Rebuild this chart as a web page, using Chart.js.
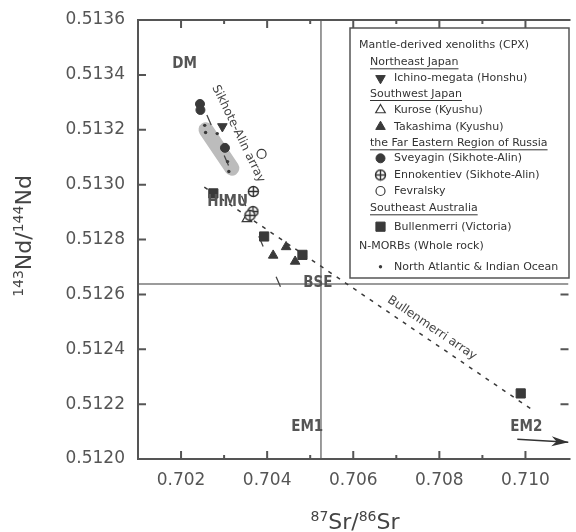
<!DOCTYPE html>
<html>
<head>
<meta charset="utf-8">
<script src="https://cdn.jsdelivr.net/npm/chart.js@4.4.1/dist/chart.umd.min.js"></script>
<style>
    html, body { margin: 0; padding: 0; background: #fff; }
</style>
</head>
<body>
<canvas id="myChart" width="576" height="532"></canvas>
<script>
// values: 87Sr/86Sr (x) and 143Nd/144Nd (y)
var ichinoSr = [0.70296];
var ichinoNd = [0.513212];
var kuroseSr = [0.70353];
var kuroseNd = [0.512875];
var takashimaSr = [0.70444, 0.70414, 0.70465];
var takashimaNd = [0.512773, 0.512742, 0.512720];
var sveyaginSr = [0.70244, 0.70245, 0.70302];
var sveyaginNd = [0.513294, 0.513272, 0.513134];
var ennokentievSr = [0.70368, 0.70367, 0.70360];
var ennokentievNd = [0.512975, 0.512902, 0.512888];
var fevralskySr = [0.70387];
var fevralskyNd = [0.513112];
var bullenmerriSr = [0.70275, 0.70393, 0.70482, 0.70989];
var bullenmerriNd = [0.512968, 0.512811, 0.512744, 0.512239];
var morbSr = [0.70255, 0.70257, 0.70284, 0.70308, 0.70311];
var morbNd = [0.513216, 0.513190, 0.513186, 0.513084, 0.513048];

// grey field, the two arrays, BSE cross lines, arrow towards EM2
var fieldSr = [0.70258, 0.70318];
var fieldNd = [0.513200, 0.513060];
var sikhoteSr = [0.70260, 0.70431];
var sikhoteNd = [0.513254, 0.512627];
var bullArraySr = [0.70254, 0.71020];
var bullArrayNd = [0.512991, 0.512175];
var bseSr = 0.70525;
var bseNd = 0.512638;
var em2ArrowSr = [0.70981, 0.71100];
var em2ArrowNd = [0.512072, 0.512061];

var endMembers = ['DM', 'HIMU', 'BSE', 'EM1', 'EM2'];
var endMemberSr = [0.70208, 0.70308, 0.70518, 0.70493, 0.71002];
var endMemberNd = [0.513440, 0.512937, 0.512641, 0.512117, 0.512117];
var arrayNames = ['Sikhote-Alin array', 'Bullenmerri array'];
var arrayNameSr = [0.70333, 0.70783];
var arrayNameNd = [0.513185, 0.512477];

var srMin = 0.701, srMax = 0.711, srStep = 0.001;
var ndMin = 0.5120, ndMax = 0.5136, ndStep = 0.0002;

var ink = '#3a3a3a';
var frameColor = '#555';

function pts(xs, ys) {
    return xs.map(function (x, i) { return { x: x, y: ys[i] }; });
}

// circle with a cross, for Ennokentiev
var oplus = document.createElement('canvas');
oplus.width = 13;
oplus.height = 13;
(function () {
    var c = oplus.getContext('2d');
    c.fillStyle = '#fff';
    c.strokeStyle = '#2e2e2e';
    c.lineWidth = 1.4;
    c.beginPath(); c.arc(6.5, 6.5, 5, 0, Math.PI * 2); c.fill(); c.stroke();
    c.beginPath();
    c.moveTo(1.5, 6.5); c.lineTo(11.5, 6.5);
    c.moveTo(6.5, 1.5); c.lineTo(6.5, 11.5);
    c.stroke();
})();

function marks(label, xs, ys, style, extra) {
    var ds = {
        label: label,
        data: pts(xs, ys),
        pointStyle: style,
        pointRadius: 5,
        pointBackgroundColor: ink,
        pointBorderColor: ink,
        pointBorderWidth: 1,
        showLine: false,
        order: 1
    };
    return Object.assign(ds, extra || {});
}

function guide(xs, ys, extra) {
    var ds = {
        label: '',
        data: pts(xs, ys),
        showLine: true,
        pointRadius: 0,
        borderColor: '#444',
        borderWidth: 1.3,
        fill: false,
        order: 5
    };
    return Object.assign(ds, extra || {});
}

var datasets = [
    marks('Ichino-megata (Honshu)', ichinoSr, ichinoNd, 'triangle', { pointRadius: 5.5, pointRotation: 180 }),
    marks('Kurose (Kyushu)', kuroseSr, kuroseNd, 'triangle', { pointRadius: 5.5, pointBackgroundColor: '#fff', pointBorderWidth: 1.2 }),
    marks('Takashima (Kyushu)', takashimaSr, takashimaNd, 'triangle', { pointRadius: 5.5 }),
    marks('Sveyagin (Sikhote-Alin)', sveyaginSr, sveyaginNd, 'circle', { pointRadius: 4.5 }),
    marks('Ennokentiev (Sikhote-Alin)', ennokentievSr, ennokentievNd, oplus, { order: 0 }),
    marks('Fevralsky', fevralskySr, fevralskyNd, 'circle', { pointRadius: 4.5, pointBackgroundColor: '#fff', pointBorderWidth: 1.2 }),
    marks('Bullenmerri (Victoria)', bullenmerriSr, bullenmerriNd, 'rect', { pointRadius: 6.5 }),
    marks('North Atlantic & Indian Ocean', morbSr, morbNd, 'circle', { pointRadius: 1.7, pointBorderWidth: 0 }),
    guide(fieldSr, fieldNd, { borderColor: '#bcbcbc', borderWidth: 15, borderCapStyle: 'round', order: 9 }),
    guide(sikhoteSr, sikhoteNd, { borderDash: [11, 33], order: 4 }),
    guide(bullArraySr, bullArrayNd, { borderDash: [4, 6], borderWidth: 1.5, borderColor: '#3a3a3a', order: 4 }),
    guide([srMin, srMax], [bseNd, bseNd], { borderColor: '#7a7a7a', borderWidth: 1.5, order: 8 }),
    guide([bseSr, bseSr], [ndMin, ndMax], { borderColor: '#7a7a7a', borderWidth: 1.5, order: 8 }),
    guide(em2ArrowSr, em2ArrowNd, { borderColor: '#333', borderWidth: 1.5, order: 4 })
];
var ARROW = datasets.length - 1;

var legendRows = [
    ['Mantle-derived xenoliths (CPX)', 'head'],
    ['Northeast Japan', 'sub'],
    [0, 'item'],
    ['Southwest Japan', 'sub'],
    [1, 'item'],
    [2, 'item'],
    ['the Far Eastern Region of Russia', 'sub'],
    [3, 'item'],
    [4, 'item'],
    [5, 'item'],
    ['Southeast Australia', 'sub'],
    [6, 'item'],
    ['N-MORBs (Whole rock)', 'head'],
    [7, 'item']
];
var legendOffsets = [17, 34.3, 50.3, 66, 82, 98.7, 115.3, 130.3, 147, 163, 180.3, 198.7, 217.7, 238.7];

var framePlugin = {
    id: 'frame',
    afterDatasetsDraw: function (chart) {
        var ctx = chart.ctx, a = chart.chartArea, xs = chart.scales.x, ys = chart.scales.y;
        ctx.save();
        ctx.strokeStyle = frameColor;
        ctx.lineWidth = 2;
        ctx.beginPath();
        ctx.moveTo(a.right + 2, a.top);
        ctx.lineTo(a.left, a.top);
        ctx.lineTo(a.left, a.bottom);
        ctx.lineTo(a.right + 2, a.bottom);
        ctx.stroke();

        ctx.beginPath();
        xs.ticks.forEach(function (t) {
            if (Math.abs(t.value - xs.min) < 1e-7 || Math.abs(t.value - xs.max) < 1e-7) return;
            var px = xs.getPixelForValue(t.value);
            var len = Math.round(t.value * 1000) % 2 === 0 ? 8 : 4;
            ctx.moveTo(px, a.bottom); ctx.lineTo(px, a.bottom - len);
            ctx.moveTo(px, a.top); ctx.lineTo(px, a.top + len);
        });
        ys.ticks.forEach(function (t) {
            if (Math.abs(t.value - ys.min) < 1e-9 || Math.abs(t.value - ys.max) < 1e-9) return;
            var py = ys.getPixelForValue(t.value);
            ctx.moveTo(a.left, py); ctx.lineTo(a.left + 8, py);
            ctx.moveTo(a.right, py); ctx.lineTo(a.right - 8, py);
        });
        ctx.stroke();
        ctx.restore();
    }
};

var notesPlugin = {
    id: 'notes',
    afterDatasetsDraw: function (chart) {
        var ctx = chart.ctx, xs = chart.scales.x, ys = chart.scales.y;
        ctx.save();

        // end-member labels
        ctx.fillStyle = '#555';
        ctx.font = 'bold 15px "DejaVu Sans Condensed", "DejaVu Sans", sans-serif';
        ctx.textAlign = 'center';
        ctx.textBaseline = 'middle';
        endMembers.forEach(function (name, i) {
            ctx.fillText(name, xs.getPixelForValue(endMemberSr[i]), ys.getPixelForValue(endMemberNd[i]));
        });

        // array names along their lines
        ctx.fillStyle = '#444';
        ctx.font = '12px "DejaVu Sans", sans-serif';
        var angles = [64, 34];
        arrayNames.forEach(function (name, i) {
            ctx.save();
            ctx.translate(xs.getPixelForValue(arrayNameSr[i]), ys.getPixelForValue(arrayNameNd[i]));
            ctx.rotate(angles[i] * Math.PI / 180);
            ctx.fillText(name, 0, 0);
            ctx.restore();
        });

        // arrow head towards EM2
        var pts2 = chart.getDatasetMeta(ARROW).data;
        var p0 = pts2[0], p1 = pts2[1];
        var ang = Math.atan2(p1.y - p0.y, p1.x - p0.x);
        ctx.translate(p1.x, p1.y);
        ctx.rotate(ang);
        ctx.fillStyle = '#333';
        ctx.beginPath();
        ctx.moveTo(0, 0);
        ctx.lineTo(-17, -5);
        ctx.lineTo(-12, 0);
        ctx.lineTo(-17, 5);
        ctx.closePath();
        ctx.fill();
        ctx.restore();
    }
};

function supTitle(ctx, parts, cx, baseY) {
    var mainFont = '22px "DejaVu Sans", sans-serif';
    var supFont = '14px "DejaVu Sans", sans-serif';
    var w = 0;
    parts.forEach(function (p) {
        ctx.font = supFont; w += ctx.measureText(p[0]).width;
        ctx.font = mainFont; w += ctx.measureText(p[1]).width;
    });
    var x = cx - w / 2;
    ctx.textAlign = 'left';
    ctx.textBaseline = 'alphabetic';
    parts.forEach(function (p) {
        ctx.font = supFont; ctx.fillText(p[0], x, baseY - 8); x += ctx.measureText(p[0]).width;
        ctx.font = mainFont; ctx.fillText(p[1], x, baseY); x += ctx.measureText(p[1]).width;
    });
}

var titlesPlugin = {
    id: 'titles',
    afterDraw: function (chart) {
        var ctx = chart.ctx;
        ctx.save();
        ctx.fillStyle = '#444';
        supTitle(ctx, [['87', 'Sr/'], ['86', 'Sr']], 355, 529);
        ctx.translate(31, 236);
        ctx.rotate(-Math.PI / 2);
        supTitle(ctx, [['143', 'Nd/'], ['144', 'Nd']], 0, 0);
        ctx.restore();
    }
};

var legendPlugin = {
    id: 'boxLegend',
    afterDraw: function (chart) {
        var ctx = chart.ctx;
        var L = 350, T = 28, R = 569, B = 278;
        ctx.save();
        ctx.fillStyle = '#fff';
        ctx.fillRect(L, T, R - L, B - T);
        ctx.strokeStyle = '#555';
        ctx.lineWidth = 1.5;
        ctx.strokeRect(L, T, R - L, B - T);

        ctx.font = '11px "DejaVu Sans", sans-serif';
        ctx.textBaseline = 'middle';
        ctx.textAlign = 'left';
        legendRows.forEach(function (row, i) {
            var y = T + legendOffsets[i];
            ctx.fillStyle = '#333';
            if (row[1] === 'head') {
                ctx.fillText(row[0], L + 9, y);
            } else if (row[1] === 'sub') {
                ctx.fillText(row[0], L + 20, y);
                var w = ctx.measureText(row[0]).width;
                ctx.fillRect(L + 20, y + 6, w, 1);
            } else {
                var ds = chart.data.datasets[row[0]];
                ctx.fillText(ds.label, L + 44, y);
                ctx.save();
                ctx.fillStyle = ds.pointBackgroundColor;
                ctx.strokeStyle = ds.pointBorderColor;
                ctx.lineWidth = ds.pointBorderWidth;
                Chart.helpers.drawPoint(ctx, {
                    pointStyle: ds.pointStyle,
                    radius: ds.pointRadius,
                    rotation: ds.pointRotation || 0,
                    borderWidth: ds.pointBorderWidth
                }, L + 30.5, y);
                ctx.restore();
            }
        });
        ctx.restore();
    }
};

var ctx = document.getElementById('myChart');
var myChart = new Chart(ctx, {
    type: 'scatter',
    data: { datasets: datasets },
    options: {
        responsive: false,
        animation: false,
        devicePixelRatio: 1,
        events: [],
        layout: { padding: { top: 20, left: 0, right: -3, bottom: 0 } },
        plugins: {
            legend: { display: false },
            tooltip: { enabled: false }
        },
        scales: {
            x: {
                type: 'linear',
                min: srMin,
                max: srMax,
                afterFit: function (scale) { scale.height = 73; },
                grid: { display: false },
                border: { display: false },
                ticks: {
                    stepSize: srStep,
                    autoSkip: false,
                    maxRotation: 0,
                    padding: 3,
                    color: '#555',
                    font: { family: 'DejaVu Sans', size: 17 },
                    callback: function (v) {
                        return Math.round(v * 1000) % 2 === 0 ? v.toFixed(3) : '';
                    }
                }
            },
            y: {
                type: 'linear',
                min: ndMin,
                max: ndMax,
                afterFit: function (scale) { scale.width = 138; },
                grid: { display: false },
                border: { display: false },
                ticks: {
                    stepSize: ndStep,
                    autoSkip: false,
                    padding: 5,
                    color: '#555',
                    font: { family: 'DejaVu Sans', size: 17 },
                    callback: function (v) { return v.toFixed(4); }
                }
            }
        }
    },
    plugins: [framePlugin, notesPlugin, titlesPlugin, legendPlugin]
});
</script>
</body>
</html>
